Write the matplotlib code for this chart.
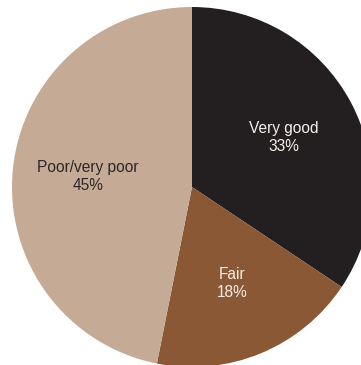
import matplotlib
matplotlib.use('Agg')
import matplotlib.pyplot as plt

plt.rcParams['font.family'] = ['Liberation Sans', 'DejaVu Sans']

categories = ['Very good', 'Fair', 'Poor/very poor']
shares = [33, 18, 45]
colors = ['#231f20', '#8b5835', '#c5aa95']
text_colors = ['#f4efea', '#f4efea', '#2b2728']

W, H = 361, 365
fig = plt.figure(figsize=(W / 100, H / 100), dpi=100)
# pie radius 180 px, centred at (192, 187) from the top-left corner
ax = fig.add_axes([12 / W, (H - 187 - 180) / H, 360 / W, 360 / H])

labels = [f'{c}\n{v}%' for c, v in zip(categories, shares)]
wedges, texts = ax.pie(shares, labels=labels, colors=colors, startangle=90,
                       counterclock=False, labeldistance=0.58,
                       wedgeprops={'linewidth': 0},
                       textprops={'fontsize': 11.2, 'linespacing': 1.25})
for t, tc in zip(texts, text_colors):
    t.set_ha('center')
    t.set_va('center')
    t.set_color(tc)

ax.set_xlim(-1, 1)
ax.set_ylim(-1, 1)
ax.set_aspect('equal')
ax.axis('off')

fig.savefig('out.png', dpi=100)
